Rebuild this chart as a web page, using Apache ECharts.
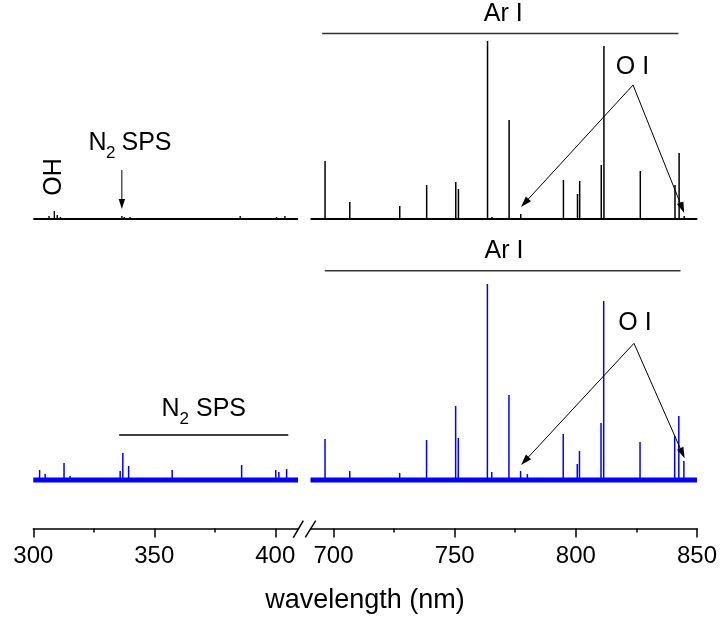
<!DOCTYPE html>
<html>
<head>
<meta charset="utf-8">
<script src="https://cdn.jsdelivr.net/npm/echarts@6/dist/echarts.min.js"></script>
<style>html,body{margin:0;padding:0;background:#fff}#c{width:720px;height:621px}</style>
</head>
<body>
<div id="c"></div>
<script>
// ---- data (wavelength in nm, intensity in arbitrary units) ----
const leftRange = [300, 409.4];
const rightRange = [690.5, 850];

const blackLeftNm  = [306.5, 308.7, 309.9, 311.2, 336.6, 337.6, 340.0, 385.5, 400.5, 404.0];
const blackLeftInt = [3, 8, 4, 2, 3, 2, 2, 3, 2, 3];
const blackRightNm  = [696.5, 706.7, 727.3, 738.4, 750.4, 751.5, 763.5, 765.3, 772.4, 777.2, 794.8, 800.6, 801.5, 810.4, 811.5, 826.5, 840.8, 842.5, 844.6];
const blackRightInt = [58, 17, 13, 34, 37, 30, 178, 2, 99, 5, 39, 25, 38, 54, 173, 48, 34, 66, 3];

const blueLeftNm  = [302.6, 304.9, 312.7, 315.2, 335.9, 337.0, 339.4, 357.4, 386.1, 400.2, 401.5, 404.7];
const blueLeftInt = [10, 6, 17, 4, 9, 27, 14, 10, 15, 10, 8, 11];
const blueRightNm  = [696.5, 706.7, 727.3, 738.4, 750.4, 751.5, 763.5, 765.3, 772.4, 777.2, 780.0, 794.8, 800.6, 801.5, 810.4, 811.5, 826.5, 840.8, 842.5, 844.6];
const blueRightInt = [41, 9, 7, 40, 74, 42, 196, 8, 85, 9, 6, 46, 16, 29, 57, 179, 38, 44, 64, 19];

const leftMajorTicks = [300, 350, 400];
const leftMinorTicks = [325, 375];
const rightMajorTicks = [700, 750, 800, 850];
const rightMinorTicks = [725, 775, 825];

// annotation anchors (data units)
const arBracketNm = [695.3, 842.2];
const arBracketNmBlue = [696.4, 843.2];
const n2BracketNm = [335.5, 405.4];

const FONT = "'Liberation Sans', Arial, Helvetica, sans-serif";

const chart = echarts.init(document.getElementById('c'), null, {renderer: 'canvas'});

const grids = [
  {left: 33.3, width: 264.7, top: 0, height: 229},
  {left: 310.5, width: 386.8, top: 0, height: 229},
  {left: 33.3, width: 264.7, top: 240, height: 288.5},
  {left: 310.5, width: 386.8, top: 240, height: 288.5}
];

function hiddenX(gi, range) {
  return {type: 'value', gridIndex: gi, min: range[0], max: range[1], show: false, splitLine: {show: false}};
}
function shownX(gi, range, major) {
  return {
    type: 'value', gridIndex: gi, min: range[0], max: range[1], position: 'bottom',
    axisLine: {show: true, onZero: false, lineStyle: {color: '#000', width: 1.5}},
    axisTick: {show: true, customValues: major, length: 9, lineStyle: {color: '#000', width: 1.5}},
    axisLabel: {show: true, customValues: major, margin: 16, fontSize: 24, color: '#000', fontFamily: FONT},
    splitLine: {show: false}
  };
}
function minorX(gi, range, minor) {
  return {
    type: 'value', gridIndex: gi, min: range[0], max: range[1], position: 'bottom', offset: 0,
    axisLine: {show: false, onZero: false},
    axisTick: {show: true, customValues: minor, length: 4, lineStyle: {color: '#000', width: 1.5}},
    axisLabel: {show: false},
    splitLine: {show: false}
  };
}
function yAx(gi, min, max) {
  return {type: 'value', gridIndex: gi, min: min, max: max, show: false, splitLine: {show: false}};
}

function baseline(xi, range, color, width) {
  return {
    type: 'line', xAxisIndex: xi, yAxisIndex: xi, data: [[range[0], 0], [range[1], 0]],
    showSymbol: false, symbol: 'none', lineStyle: {color: color, width: width},
    animation: false, z: 2, silent: true
  };
}
function sticks(xi, nm, inten, color, width) {
  return {
    type: 'custom', coordinateSystem: 'cartesian2d', xAxisIndex: xi, yAxisIndex: xi,
    data: nm.map(function (x, i) { return [x, inten[i]]; }),
    silent: true, animation: false, z: 3, clip: true,
    renderItem: function (params, api) {
      const p0 = api.coord([api.value(0), 0]);
      const p1 = api.coord([api.value(0), api.value(1)]);
      return {type: 'line', shape: {x1: p0[0], y1: p0[1], x2: p1[0], y2: p1[1]},
              style: {stroke: color, lineWidth: width}};
    }
  };
}

const option = {
  animation: false,
  backgroundColor: '#fff',
  grid: grids,
  xAxis: [
    hiddenX(0, leftRange), hiddenX(1, rightRange),
    shownX(2, leftRange, leftMajorTicks), shownX(3, rightRange, rightMajorTicks),
    minorX(2, leftRange, leftMinorTicks), minorX(3, rightRange, rightMinorTicks)
  ],
  yAxis: [yAx(0, -10, 219), yAx(1, -10, 219), yAx(2, -48.5, 240), yAx(3, -48.5, 240)],
  series: [
    baseline(0, leftRange, '#000', 2),
    sticks(0, blackLeftNm, blackLeftInt, '#000', 1.4),
    baseline(1, rightRange, '#000', 2),
    sticks(1, blackRightNm, blackRightInt, '#000', 1.5),
    baseline(2, leftRange, '#0000ff', 5),
    sticks(2, blueLeftNm, blueLeftInt, '#0000ff', 1.5),
    baseline(3, rightRange, '#0000ff', 5),
    sticks(3, blueRightNm, blueRightInt, '#0000ff', 1.5)
  ]
};
chart.setOption(option);

// ---- annotations ----
function px(gi, x, y) { return chart.convertToPixel({gridIndex: gi}, [x, y]); }
const G = [];
function text(str, x, y, size, align, rot) {
  G.push({
    type: 'text', x: x, y: y, z: 10, rotation: rot || 0,
    style: {text: str, fontSize: size, fontFamily: FONT, fill: '#000', align: align || 'left', verticalAlign: 'middle'}
  });
}
function seg(p0, p1, color, w) {
  G.push({type: 'line', z: 9, shape: {x1: p0[0], y1: p0[1], x2: p1[0], y2: p1[1]}, style: {stroke: color, lineWidth: w}});
}
function arrow(p0, p1, len, hw) {
  const dx = p1[0] - p0[0], dy = p1[1] - p0[1];
  const L = Math.sqrt(dx * dx + dy * dy);
  const ux = dx / L, uy = dy / L;
  const bx = p1[0] - ux * len, by = p1[1] - uy * len;
  seg(p0, [bx + ux * 2, by + uy * 2], '#000', 1);
  G.push({type: 'polygon', z: 9, shape: {points: [[p1[0], p1[1]], [bx - uy * hw, by + ux * hw], [bx + uy * hw, by - ux * hw]]}, style: {fill: '#000'}});
}

// break marks on the x axis
const axY = px(2, leftRange[0], -48.5)[1];
seg([293.3, axY + 9.2], [303.3, axY - 7.8], '#000', 1.5);
seg([305.3, axY + 8.8], [315.7, axY - 7.8], '#000', 1.5);

// top panel
seg(px(1, arBracketNm[0], 185.5), px(1, arBracketNm[1], 185.5), '#333', 1.5);
text('Ar I', 503.3, 14, 25, 'center');
text('O I', 632.5, 67.5, 25, 'center');
arrow(px(1, 823.5, 134), px(1, 777.3, 12), 11, 3.5);
arrow(px(1, 823.5, 134), px(1, 844.6, 6), 11, 3.5);
text('N', 88.5, 143.6, 25);
text('2', 106, 153.8, 17);
text('SPS', 121.5, 143.6, 25);
arrow(px(0, 336.6, 49), px(0, 336.6, 10), 10, 3.2);
text('OH', 53.8, 177, 25, 'center', Math.PI / 2);

// bottom panel
seg(px(3, arBracketNmBlue[0], 209.3), px(3, arBracketNmBlue[1], 209.3), '#333', 1.5);
text('Ar I', 504, 251, 25, 'center');
text('O I', 635, 323.3, 25, 'center');
arrow(px(3, 824.0, 136.7), px(3, 777.4, 15), 11, 3.5);
arrow(px(3, 824.0, 136.7), px(3, 844.9, 21.7), 11, 3.5);
seg(px(2, n2BracketNm[0], 45), px(2, n2BracketNm[1], 45), '#000', 1.3);
text('N', 161.5, 409.5, 25);
text('2', 179.5, 419.5, 17);
text('SPS', 196, 409.5, 25);

// axis title
text('wavelength (nm)', 365, 601, 27, 'center');

chart.setOption({graphic: G});
</script>
</body>
</html>
